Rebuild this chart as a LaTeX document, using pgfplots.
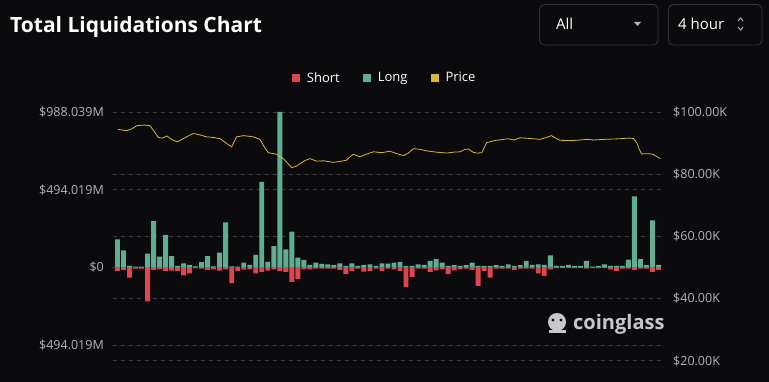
\documentclass[border=0pt]{standalone}
\usepackage{pgfplots}
\pgfplotsset{compat=1.18}
\usepackage{pgfplotstable}
\usepackage{fontspec}
\setmainfont{Open Sans}
\definecolor{bg}{HTML}{0B0B0E}
\definecolor{shortred}{HTML}{DE454E}
\definecolor{longgreen}{HTML}{5FAE94}
\definecolor{priceyellow}{HTML}{D9B73C}
\definecolor{gridc}{HTML}{3A3A3E}
\definecolor{tickc}{HTML}{B4B4B8}
\definecolor{boxc}{HTML}{34343A}
\definecolor{wm}{HTML}{C8C8CC}

\pgfplotstableread{
i long short
0 179 -21
1 110 -15
2 11 -63
3 6 -6
4 6 -6
5 89 -215
6 295 -15
7 70 -11
8 207 -21
9 72 -19
10 11 -23
11 27 -49
12 17 -36
13 8 -4
14 34 -6
15 72 -15
16 8 -11
17 95 -19
18 287 -11
19 8 -99
20 6 -23
21 32 -13
22 17 -11
23 80 -36
24 544 -27
25 36 -19
26 137 -11
27 988 -23
28 116 -27
29 228 -91
30 63 -74
31 49 -11
32 17 -11
33 32 -6
34 23 -6
35 21 -6
36 17 -6
37 27 -15
38 11 -42
39 27 -21
40 11 -6
41 17 -25
42 21 -21
43 11 -6
44 27 -21
45 25 -6
46 32 -11
47 36 -21
48 11 -122
49 11 -59
50 21 -6
51 17 -6
52 42 -27
53 53 -17
54 32 -11
55 11 -42
56 15 -17
57 11 -11
58 15 -6
59 32 -15
60 11 -116
61 11 -21
62 11 -63
63 15 -6
64 11 -6
65 21 -6
66 11 -15
67 15 -6
68 42 -6
69 17 -6
70 21 -36
71 17 -53
72 78 -11
73 11 -3
74 11 -3
75 17 -3
76 11 -3
77 11 -3
78 42 -6
79 6 -3
80 11 -3
81 21 -3
82 11 -11
83 11 -21
84 11 -6
85 51 -6
86 452 -15
87 53 -6
88 15 -6
89 300 -27
90 17 -15
}\liqdata

\pgfplotstableread{
x p
0.1 94.4
1.5 94.0
2.4 94.6
3.2 95.6
4.5 95.8
5.4 95.6
6.2 93.5
6.8 91.8
7.5 91.6
8.2 92.3
9.0 91.2
9.9 90.4
11.0 91.5
12.6 93.1
13.8 92.6
14.8 92.0
16.0 91.8
17.1 91.4
18.2 89.8
19.0 88.8
19.8 92.0
21.0 92.4
22.6 92.0
23.7 91.2
24.5 88.5
25.1 86.9
26.5 86.4
27.6 85.0
28.3 83.5
29.0 82.1
29.7 82.5
30.4 83.4
31.2 84.4
32.0 85.0
33.1 84.2
34.3 84.3
35.9 83.8
37.0 84.1
38.1 84.5
38.7 85.6
39.2 86.4
40.3 85.6
41.5 86.5
42.6 87.2
44.0 86.9
45.3 87.4
46.6 86.5
47.6 86.0
48.4 86.8
49.2 88.2
50.3 88.0
51.4 87.5
53.0 87.1
54.8 86.8
56.0 87.1
57.0 87.2
57.8 88.0
58.4 88.1
59.2 87.0
59.8 86.8
60.6 86.9
61.0 88.5
61.4 90.1
62.7 90.8
64.2 91.2
65.0 91.4
65.9 91.0
67.0 91.7
68.5 91.5
70.3 91.2
71.3 91.8
72.2 92.4
72.9 91.6
73.6 90.9
75.5 90.8
77.0 91.0
78.1 91.2
79.2 91.0
81.0 91.2
83.6 91.4
85.0 91.6
85.8 91.5
86.4 90.1
86.8 88.0
87.2 86.5
88.0 86.6
88.9 86.5
89.6 85.8
90.3 85.0
}\pricedata

\begin{document}
\begin{tikzpicture}[x=1pt,y=1pt]
\fill[bg] (0,0) rectangle (769,382);
\useasboundingbox (0,0) rectangle (769,382);

% title
\node[anchor=base west, inner sep=0pt, text=white, font=\fontsize{21}{25}\selectfont\bfseries] at (10,349) {Total Liquidations Chart};

% dropdowns
\draw[boxc, line width=0.8pt, rounded corners=5pt] (539.5,377.5) rectangle (658,337);
\node[anchor=west, inner sep=0pt, text=white, font=\fontsize{15}{18}\selectfont] at (556,358) {All};
\fill[tickc] (634,360) -- (641,360) -- (637.5,356) -- cycle;
\draw[boxc, line width=0.8pt, rounded corners=5pt] (668.5,377.5) rectangle (762,337);
\node[anchor=west, inner sep=0pt, text=white, font=\fontsize{15}{18}\selectfont] at (678,358) {4 hour};
\draw[tickc, line width=0.9pt] (738,361) -- (740.5,364) -- (743,361);
\draw[tickc, line width=0.9pt] (738,355) -- (740.5,352) -- (743,355);

% watermark
\fill[wm] (557,60) circle (9);
\fill[wm] (549,52) rectangle (566,49);
\fill[bg] (553,62) circle (1.6);
\fill[bg] (561,62) circle (1.6);
\node[anchor=base west, inner sep=0pt, text=wm, font=\fontsize{20}{24}\selectfont\bfseries] at (573,52) {coinglass};

% right-axis grid and labels
\begin{axis}[
  at={(113pt,21.3pt)}, anchor=south west, scale only axis,
  width=550pt, height=248.7pt,
  xmin=-0.75, xmax=90.75, ymin=20, ymax=100,
  axis line style={draw=none}, major tick length=0pt,
  xtick=\empty,
  ytick={20,40,60,80,100},
  yticklabels={\$20.00K,\$40.00K,\$60.00K,\$80.00K,\$100.00K},
  yticklabel pos=right,
  yticklabel style={text=tickc, font=\fontsize{12.5}{14}\selectfont, inner sep=0pt, anchor=west, xshift=10pt},
  ymajorgrids, grid style={gridc, dash pattern=on 4pt off 4pt, line width=0.7pt},
]
\end{axis}

% bars
\begin{axis}[
  at={(113pt,21.3pt)}, anchor=south west, scale only axis,
  width=550pt, height=248.7pt,
  xmin=-0.75, xmax=90.75, ymin=-591.2, ymax=988.039,
  ybar, bar width=0.82, bar shift=0pt,
  axis line style={draw=none}, major tick length=0pt,
  xtick=\empty,
  ytick={-494.019,0,494.019,988.039},
  yticklabels={\$494.019M,\$0,\$494.019M,\$988.039M},
  yticklabel style={text=tickc, font=\fontsize{12.5}{14}\selectfont, inner sep=0pt, anchor=east, xshift=-9pt},
  ymajorgrids, grid style={gridc, dash pattern=on 4pt off 4pt, line width=0.7pt},
  legend columns=3,
  legend style={at={(0.494,1.137)}, anchor=center, draw=none, fill=none, text=white,
    font=\fontsize{13}{15}\selectfont, inner sep=0pt,
    /tikz/every odd column/.append style={column sep=5pt},
    /tikz/every even column/.append style={column sep=21pt}},
  legend image code/.code={\fill[#1] (0pt,-4pt) rectangle (8pt,4pt);},
]
\addplot[fill=shortred, draw=none] table[x=i, y=short] {\liqdata};
\addlegendentry{Short}
\addplot[fill=longgreen, draw=none] table[x=i, y=long] {\liqdata};
\addlegendentry{Long}
\addlegendimage{fill=priceyellow, draw=none}
\addlegendentry{Price}
\end{axis}

% price line
\begin{axis}[
  at={(113pt,21.3pt)}, anchor=south west, scale only axis,
  width=550pt, height=248.7pt,
  xmin=-0.75, xmax=90.75, ymin=20, ymax=100,
  axis line style={draw=none}, major tick length=0pt,
  xtick=\empty, ytick=\empty,
]
\addplot[priceyellow, line width=0.8pt, no marks] table[x=x, y=p] {\pricedata};
\end{axis}
\end{tikzpicture}
\end{document}
